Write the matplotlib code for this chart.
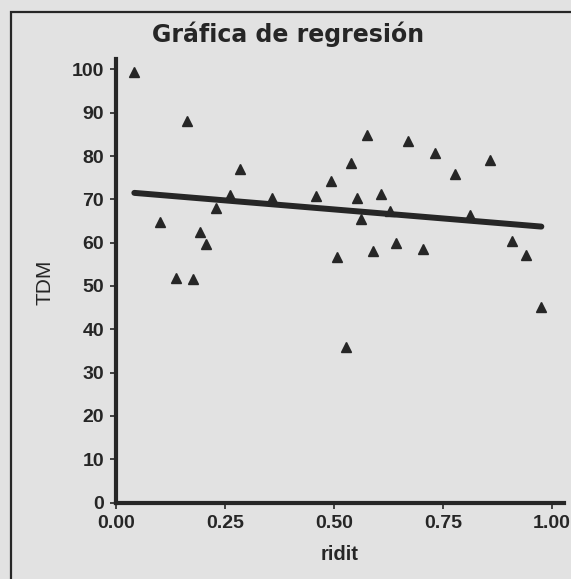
import numpy as np
import matplotlib.pyplot as plt
from matplotlib.patches import Rectangle

# datos (ridit vs TDM)
ridit = [0.041, 0.100, 0.136, 0.163, 0.176, 0.192, 0.206, 0.229, 0.261, 0.283,
         0.358, 0.459, 0.493, 0.507, 0.528, 0.539, 0.553, 0.562, 0.576, 0.589,
         0.607, 0.628, 0.642, 0.670, 0.704, 0.732, 0.777, 0.813, 0.858, 0.908,
         0.940, 0.976]
tdm = [99.4, 64.7, 51.9, 88.0, 51.5, 62.4, 59.6, 68.1, 71.1, 77.1,
       70.3, 70.7, 74.3, 56.6, 35.8, 78.5, 70.3, 65.4, 84.8, 58.1,
       71.3, 67.2, 59.9, 83.5, 58.5, 80.8, 75.9, 66.4, 79.0, 60.4,
       57.1, 45.1]
xticks = [0.0, 0.25, 0.5, 0.75, 1.0]
xtick_labels = ["0.00", "0.25", "0.50", "0.75", "1.00"]
yticks = list(range(0, 101, 10))

gris = "#e2e2e2"
tinta = "#262626"

x = np.array(ridit)
y = np.array(tdm)
pend, inter = np.polyfit(x, y, 1)
print(pend, inter)
xl = np.array([x.min(), x.max()])

fig = plt.figure(figsize=(5.71, 5.79), dpi=100, facecolor=gris)
ax = fig.add_axes([0.204, 0.1321, 0.7837, 0.766])
ax.set_facecolor(gris)

ax.plot(xl, inter + pend * xl, color=tinta, lw=4.3, solid_capstyle="round", zorder=2)
ax.plot(x, y, linestyle="none", marker="^", ms=7, color=tinta, zorder=3)

ax.set_xlim(0, 1.028)
ax.set_ylim(0, 102.4)
ax.set_xticks(xticks)
ax.set_xticklabels(xtick_labels)
ax.set_yticks(yticks)

for s in ["top", "right"]:
    ax.spines[s].set_visible(False)
for s in ["left", "bottom"]:
    ax.spines[s].set_linewidth(3)
    ax.spines[s].set_color(tinta)

ax.tick_params(direction="out", length=4, width=1.2, color=tinta, pad=5,
               labelcolor=tinta)
for lab in ax.get_xticklabels() + ax.get_yticklabels():
    lab.set_fontfamily("Liberation Sans")
    lab.set_fontweight("bold")
    lab.set_fontsize(14)

fig.text(288.5 / 571, 1 - 34 / 579, "Gráfica de regresión", ha="center", va="center",
         fontsize=17, fontweight="bold", family="DejaVu Sans", color=tinta)
fig.text(340 / 571, 1 - 555 / 579, "ridit", ha="center", va="center",
         fontsize=14.5, fontweight="bold", family="Liberation Sans", color=tinta)
fig.text(45 / 571, 1 - 282 / 579, "TDM", ha="center", va="center", rotation=90,
         fontsize=15, family="Liberation Sans", color=tinta)

# marco exterior (cortado a la derecha y abajo)
fig.add_artist(Rectangle((11 / 571, -0.05), 1.2, 1 - 12 / 579 + 0.05,
                         transform=fig.transFigure, fill=False, lw=1.6,
                         edgecolor=tinta))

fig.savefig("out.png", dpi=100, facecolor=gris)
